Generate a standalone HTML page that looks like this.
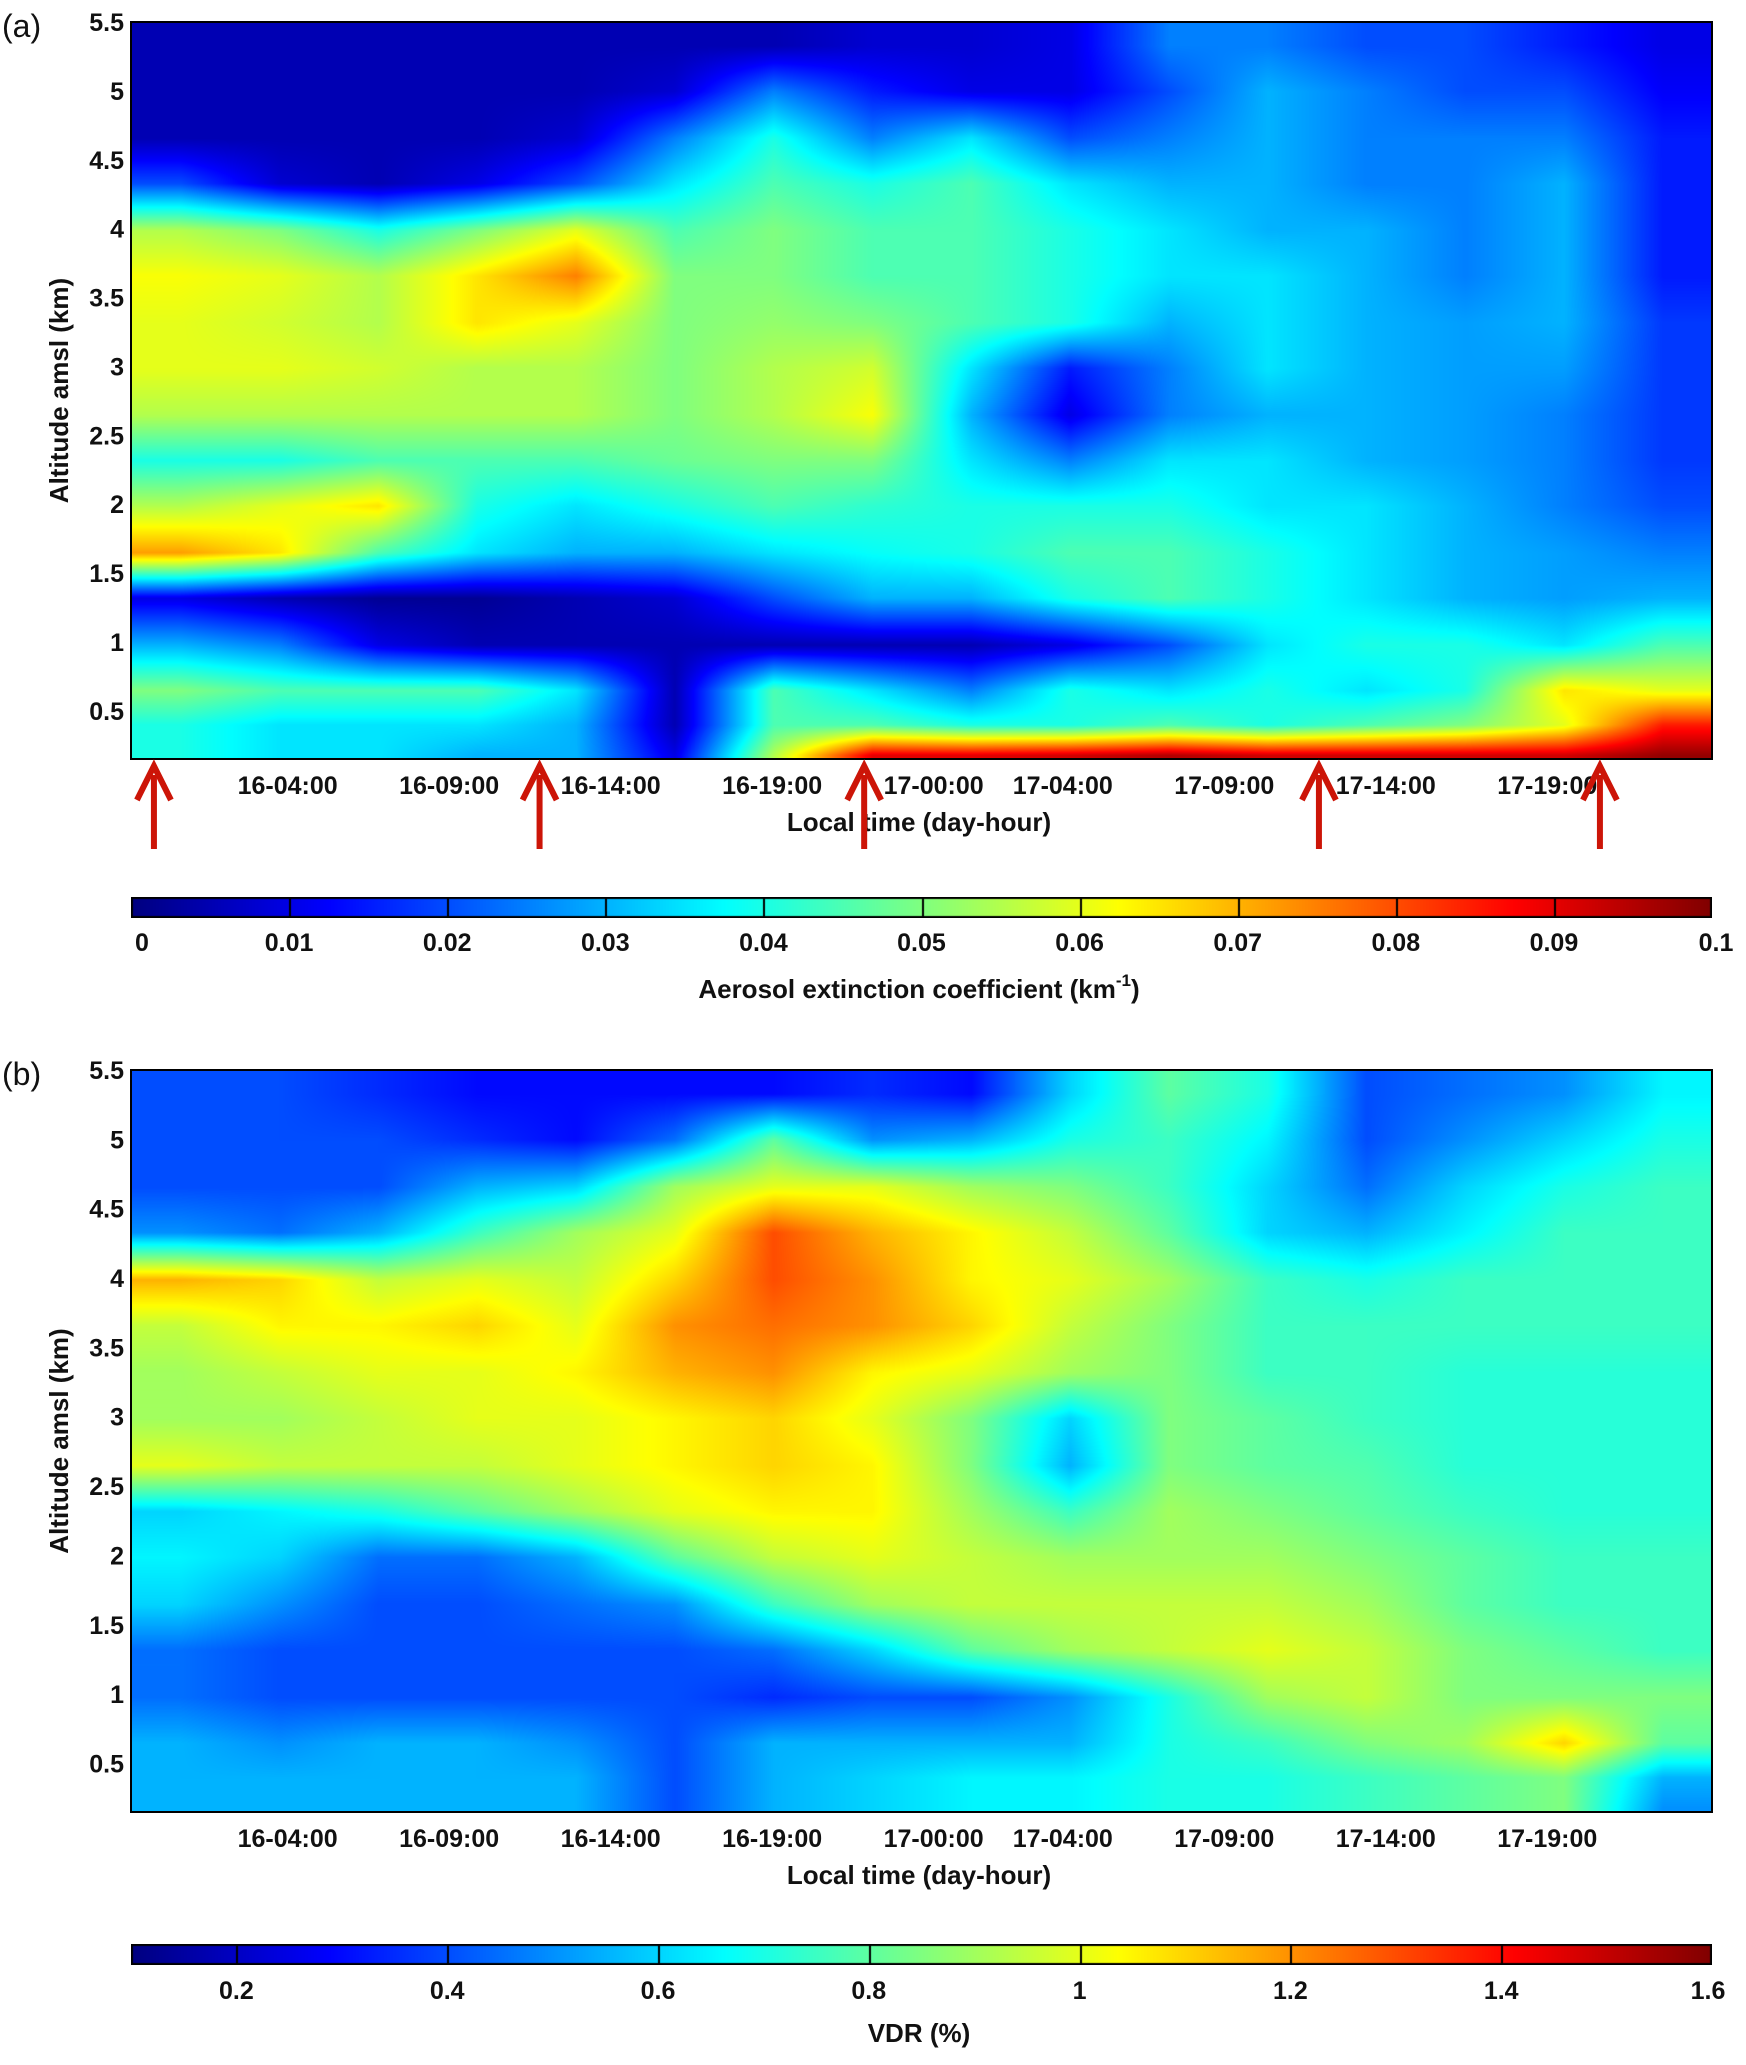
<!DOCTYPE html>
<html><head><meta charset="utf-8"><style>
html,body{margin:0;padding:0;background:#fff;}
#wrap{position:relative;width:1746px;height:2065px;overflow:hidden;font-family:"Liberation Sans",sans-serif;}
canvas{position:absolute;}
svg{position:absolute;left:0;top:0;}
text{font-family:"Liberation Sans",sans-serif;font-weight:bold;fill:#111;}
</style></head><body>
<div id="wrap">
<canvas id="hmA"></canvas>
<canvas id="hmB"></canvas>
<canvas id="cbA"></canvas>
<canvas id="cbB"></canvas>
<svg id="ov" width="1746" height="2065"></svg>
</div>
<script>
// ---- data ----
const altRows=[5.33,5.0,4.66,4.33,3.99,3.66,3.32,2.99,2.65,2.32,1.99,1.65,1.32,0.98,0.65,0.4,0.18];
const timeTickHours=[4,9,14,19,24,28,33,38,43];
const timeTickLabels=["16-04:00","16-09:00","16-14:00","16-19:00","17-00:00","17-04:00","17-09:00","17-14:00","17-19:00"];
const altTicks=[0.5,1,1.5,2,2.5,3,3.5,4,4.5,5,5.5];
const arrowHours=[-0.14,11.8,21.85,35.93,44.63];
const extTicks=[0,0.01,0.02,0.03,0.04,0.05,0.06,0.07,0.08,0.09,0.1];
const extTickLabels=["0","0.01","0.02","0.03","0.04","0.05","0.06","0.07","0.08","0.09","0.1"];
const vdrTicks=[0.2,0.4,0.6,0.8,1.0,1.2,1.4,1.6];
const vdrTickLabels=["0.2","0.4","0.6","0.8","1","1.2","1.4","1.6"];
// extinction (x0.001 km^-1), rows top->bottom, 16 time columns
const extGrid=[
[5,5,5,5,5,5,5,8,8,10,25,25,20,20,15,10],
[5,5,5,5,5,8,25,15,10,10,20,30,25,20,20,12],
[5,5,5,5,8,25,40,25,35,20,25,30,25,25,25,15],
[20,8,5,10,20,35,45,40,45,35,30,30,25,25,30,15],
[55,50,40,50,60,45,50,45,45,40,35,30,30,25,30,15],
[62,60,55,65,75,50,50,45,45,40,35,35,30,25,30,15],
[60,58,55,65,60,50,52,50,45,40,30,35,30,28,30,18],
[60,60,58,55,55,50,55,58,35,15,25,35,30,28,28,18],
[55,55,55,55,55,50,55,62,30,10,25,30,30,28,25,18],
[40,40,45,45,45,48,50,50,35,25,35,35,30,28,25,18],
[55,60,65,40,35,40,45,42,40,40,40,35,35,30,25,20],
[72,65,45,35,30,30,35,38,40,45,45,40,35,30,28,25],
[10,5,2,2,5,8,20,30,30,40,45,40,35,30,28,30],
[30,25,10,5,5,5,5,5,5,10,20,35,40,40,35,45],
[50,45,45,45,35,5,45,35,25,40,35,40,35,40,65,60],
[40,35,35,35,30,5,45,45,40,40,45,40,45,50,60,85],
[40,35,35,30,30,10,55,90,90,92,95,92,92,92,92,98]];
const vdrGrid=[
[0.4,0.4,0.35,0.3,0.3,0.3,0.3,0.35,0.3,0.6,0.8,0.7,0.4,0.45,0.5,0.65],
[0.4,0.4,0.4,0.35,0.3,0.45,0.8,0.5,0.55,0.7,0.75,0.65,0.4,0.5,0.6,0.7],
[0.4,0.4,0.4,0.55,0.6,0.9,1.0,1.0,0.9,0.85,0.75,0.6,0.45,0.6,0.7,0.75],
[0.5,0.45,0.55,0.75,0.9,1.0,1.3,1.15,1.05,0.95,0.8,0.6,0.55,0.65,0.75,0.75],
[1.15,1.1,0.95,1.0,0.95,1.1,1.3,1.2,1.05,1.0,0.9,0.75,0.7,0.75,0.75,0.75],
[0.95,1.05,1.05,1.1,1.0,1.2,1.25,1.2,1.1,0.95,0.85,0.75,0.75,0.75,0.75,0.75],
[0.9,0.95,1.0,1.0,1.05,1.15,1.2,1.05,1.0,0.9,0.85,0.75,0.75,0.72,0.72,0.72],
[0.9,0.9,0.95,1.0,1.0,1.05,1.1,1.0,0.85,0.6,0.85,0.8,0.75,0.72,0.72,0.72],
[1.0,0.95,0.95,0.95,1.0,1.05,1.1,1.05,0.85,0.55,0.85,0.8,0.78,0.72,0.72,0.72],
[0.6,0.65,0.7,0.8,0.9,1.0,1.05,1.05,0.9,0.75,0.9,0.85,0.8,0.75,0.72,0.72],
[0.65,0.6,0.45,0.45,0.55,0.8,0.95,1.0,0.95,0.9,0.9,0.9,0.85,0.8,0.75,0.75],
[0.6,0.5,0.4,0.4,0.45,0.5,0.75,0.9,0.95,0.95,0.95,0.95,0.9,0.8,0.75,0.75],
[0.45,0.4,0.4,0.4,0.4,0.4,0.45,0.6,0.8,0.9,0.95,1.0,0.95,0.85,0.8,0.75],
[0.45,0.4,0.4,0.4,0.4,0.4,0.35,0.4,0.4,0.5,0.7,0.9,0.95,0.85,0.85,0.85],
[0.55,0.5,0.55,0.55,0.5,0.4,0.55,0.55,0.55,0.55,0.7,0.75,0.85,0.9,1.1,0.8],
[0.55,0.55,0.55,0.55,0.55,0.4,0.55,0.6,0.65,0.65,0.7,0.7,0.75,0.8,0.85,0.55],
[0.55,0.55,0.55,0.55,0.55,0.4,0.55,0.6,0.65,0.65,0.7,0.7,0.75,0.8,0.85,0.5]];

// ---- layout ----
const X0=131,X1=1712;
const T0=-0.85,T1=48.1, H0=0.15,H1=5.5;
const panels=[{top:22,bot:759,grid:extGrid,vmin:0,vmax:100,id:'hmA'},{top:1070,bot:1812,grid:vdrGrid,vmin:0.1,vmax:1.6,id:'hmB'}];
function xScale(t){return X0+(t-T0)/(T1-T0)*(X1-X0);}
function yScale(h,p){return p.top+(H1-h)/(H1-H0)*(p.bot-p.top);}
function jet(t){t=Math.max(0,Math.min(1,t));
 const c=v=>Math.round(255*Math.max(0,Math.min(1,v)));
 return [c(1.5-Math.abs(4*t-3)),c(1.5-Math.abs(4*t-2)),c(1.5-Math.abs(4*t-1))];}

function drawHeat(p){
 const cv=document.getElementById(p.id);
 const w=X1-X0,h=p.bot-p.top;
 cv.width=w;cv.height=h;cv.style.left=X0+'px';cv.style.top=p.top+'px';
 const ctx=cv.getContext('2d');const img=ctx.createImageData(w,h);
 const nr=p.grid.length,nc=p.grid[0].length;
 for(let y=0;y<h;y++){
  const alt=H1-(y/h)*(H1-H0);
  let fr=0;
  if(alt>=altRows[0])fr=0;else if(alt<=altRows[nr-1])fr=nr-1;
  else{for(let i=0;i<nr-1;i++){if(alt<=altRows[i]&&alt>=altRows[i+1]){fr=i+(altRows[i]-alt)/(altRows[i]-altRows[i+1]);break;}}}
  const r0=Math.floor(fr),r1=Math.min(nr-1,r0+1),ry=fr-r0;
  for(let x=0;x<w;x++){
   let fc=(x/w)*nc-0.5;fc=Math.max(0,Math.min(nc-1,fc));
   const c0=Math.floor(fc),c1=Math.min(nc-1,c0+1),cx=fc-c0;
   const v=(p.grid[r0][c0]*(1-cx)+p.grid[r0][c1]*cx)*(1-ry)+(p.grid[r1][c0]*(1-cx)+p.grid[r1][c1]*cx)*ry;
   const col=jet((v-p.vmin)/(p.vmax-p.vmin));
   const k=(y*w+x)*4;img.data[k]=col[0];img.data[k+1]=col[1];img.data[k+2]=col[2];img.data[k+3]=255;}
 }
 ctx.putImageData(img,0,0);
}
panels.forEach(drawHeat);

function drawCB(id,top,bot,ticks,vmin,vmax){
 const cv=document.getElementById(id);const w=X1-X0,h=bot-top;
 cv.width=w;cv.height=h;cv.style.left=X0+'px';cv.style.top=top+'px';
 const ctx=cv.getContext('2d');
 for(let x=0;x<w;x++){const c=jet(x/w);ctx.fillStyle=`rgb(${c[0]},${c[1]},${c[2]})`;ctx.fillRect(x,0,1,h);}
 ctx.fillStyle='#000';
 ticks.forEach(t=>{const x=Math.round((t-vmin)/(vmax-vmin)*w);ctx.fillRect(Math.min(w-2,x),0,2,h);});
 ctx.strokeStyle='#000';ctx.lineWidth=2;ctx.strokeRect(1,1,w-2,h-2);
}
drawCB('cbA',897,918,extTicks,0,0.1);
drawCB('cbB',1944,1965,vdrTicks,0.1,1.6);

// ---- overlay ----
const NS='http://www.w3.org/2000/svg';const ov=document.getElementById('ov');
function el(tag,attrs,txt){const e=document.createElementNS(NS,tag);for(const k in attrs)e.setAttribute(k,attrs[k]);if(txt!==undefined)e.textContent=txt;ov.appendChild(e);return e;}

panels.forEach((p,pi)=>{
 const fr=el('rect',{x:X0,y:p.top,width:X1-X0,height:p.bot-p.top,fill:'none',stroke:'#000','stroke-width':2});
 
 
 altTicks.forEach(a=>{
  const t=el('text',{x:124,y:yScale(a,p)+9,'text-anchor':'end','font-size':25},String(a));
  
  
 });
 timeTickHours.forEach((hr,i)=>{
  const t=el('text',{x:xScale(hr),y:p.bot+35,'text-anchor':'middle','font-size':25},timeTickLabels[i]);
  
  
 });
 const xt=el('text',{x:919,y:p.bot+72,'text-anchor':'middle','font-size':26},'Local time (day-hour)');
 
 
 const cy=(p.top+p.bot)/2;
 const yt=el('text',{x:0,y:0,'text-anchor':'middle','font-size':26,transform:`translate(68,${cy}) rotate(-90)`},'Altitude amsl (km)');
 
 
 const pl=el('text',{x:2,y:p.top+15,'font-size':32,style:'font-weight:normal'},pi?'(b)':'(a)');
 
 
});

// arrows
arrowHours.forEach(hr=>{
 const x=xScale(hr);
 const g=el('g',{});
 
 
 const s=document.createElementNS(NS,'rect');s.setAttribute('x',x-3);s.setAttribute('y',775);s.setAttribute('width',6);s.setAttribute('height',74);s.setAttribute('fill','#cc1508');g.appendChild(s);
 const h=document.createElementNS(NS,'path');h.setAttribute('d',`M${x-17},${800} L${x},${766} L${x+17},${800}`);h.setAttribute('fill','none');h.setAttribute('stroke','#cc1508');h.setAttribute('stroke-width',6);g.appendChild(h);
});

// colorbar labels
extTicks.forEach((v,i)=>{
 const t=el('text',{x:X0+(v-0)/0.1*(X1-X0)+(i==0?11:i==10?4:0),y:951,'text-anchor':'middle','font-size':25},extTickLabels[i]);
 
 
});
vdrTicks.forEach((v,i)=>{
 const t=el('text',{x:X0+(v-0.1)/1.5*(X1-X0)+(i==7?-4:0),y:1999,'text-anchor':'middle','font-size':25},vdrTickLabels[i]);
 
 
});
const ca=el('text',{x:919,y:998,'text-anchor':'middle','font-size':26},'Aerosol extinction coefficient (km');


const ts=document.createElementNS(NS,'tspan');ts.setAttribute('dy','-12');ts.setAttribute('font-size','17');ts.textContent='-1';ca.appendChild(ts);
const ts2=document.createElementNS(NS,'tspan');ts2.setAttribute('dy','12');ts2.textContent=')';ca.appendChild(ts2);
const cb=el('text',{x:919,y:2042,'text-anchor':'middle','font-size':26},'VDR (%)');


</script>
</body></html>
